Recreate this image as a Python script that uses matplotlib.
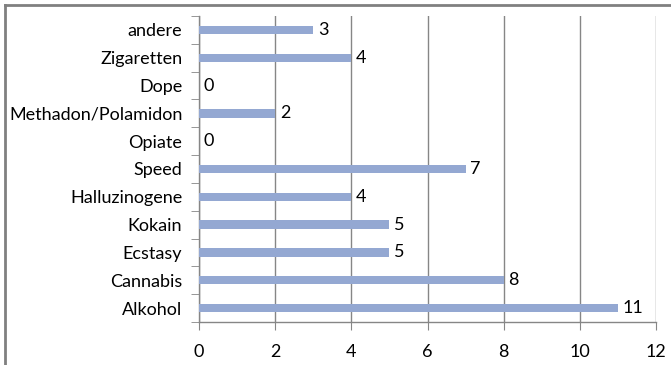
import matplotlib.pyplot as plt
from matplotlib.lines import Line2D

categories = ["Alkohol", "Cannabis", "Ecstasy", "Kokain", "Halluzinogene", "Speed",
              "Opiate", "Methadon/Polamidon", "Dope", "Zigaretten", "andere"]
counts = [11, 8, 5, 5, 4, 7, 0, 2, 0, 4, 3]
xticks = [0, 2, 4, 6, 8, 10, 12]

plt.rcParams['font.family'] = ['Lato', 'DejaVu Sans']
fs = 13

fig = plt.figure(figsize=(6.71, 3.65), dpi=100)
ax = fig.add_axes([199 / 671, 1 - 322 / 365, (656 - 199) / 671, (322 - 16) / 365])

grid_col = '#868686'
bar_col = '#94a8d2'

pos = list(range(len(categories)))
ax.barh(pos, counts, height=0.3, color=bar_col, zorder=3)
for y, v in zip(pos, counts):
    ax.text(v + 0.12, y, str(v), va='center', ha='left', fontsize=fs, color='black', zorder=4)

ax.set_xlim(0, 12)
ax.set_ylim(-0.5, len(categories) - 0.5)
ax.set_xticks(xticks)
ax.set_xticklabels([str(t) for t in xticks], fontsize=fs)
ax.set_yticks(pos)
ax.set_yticklabels(categories, fontsize=fs)
ax.tick_params(axis='y', length=0, pad=12)
ax.tick_params(axis='x', length=6, color=grid_col, pad=10, direction='out')

# category boundary ticks on the left axis
ax.set_yticks([p - 0.5 for p in pos] + [len(categories) - 0.5], minor=True)
ax.tick_params(axis='y', which='minor', length=6, color=grid_col, direction='out')

ax.grid(axis='x', color=grid_col, linewidth=1, zorder=0)
for side in ['top', 'right']:
    ax.spines[side].set_visible(False)
for side in ['left', 'bottom']:
    ax.spines[side].set_color(grid_col)
    ax.spines[side].set_linewidth(1)

# chart frame
fig.add_artist(Line2D([4.5 / 671, 1], [1 - 5 / 365, 1 - 5 / 365], transform=fig.transFigure,
                      color='#808080', linewidth=2))
fig.add_artist(Line2D([4.5 / 671, 4.5 / 671], [0, 1 - 5 / 365], transform=fig.transFigure,
                      color='#808080', linewidth=2))

fig.savefig('out.png', dpi=100)
